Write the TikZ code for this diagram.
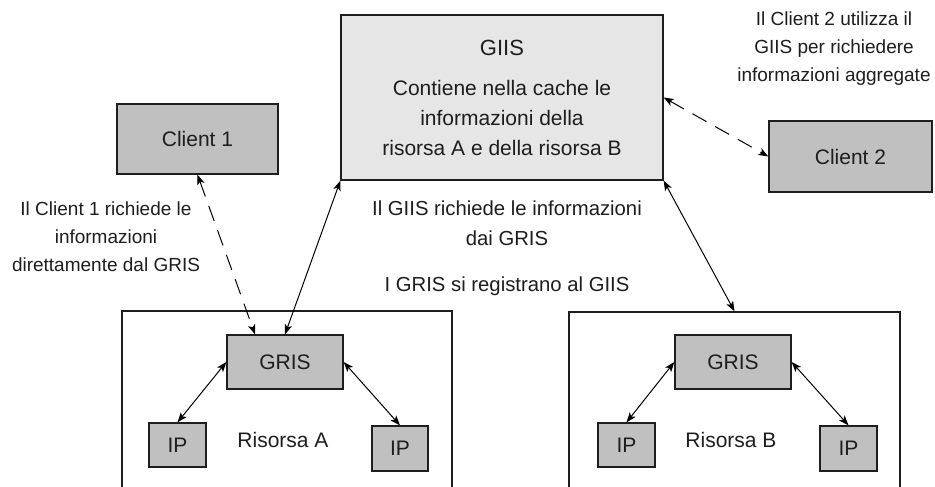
\documentclass[tikz,border=0pt]{standalone}
\usepackage{fontspec}
\setmainfont{Liberation Sans}
\usetikzlibrary{arrows.meta,calc}
\definecolor{boxgray}{HTML}{C0C0C0}
\definecolor{giisgray}{HTML}{E6E6E6}
\definecolor{edgecol}{HTML}{1E1E1E}
\begin{document}
\begin{tikzpicture}[x=1pt,y=-1pt,
  every node/.style={font=\fontsize{21}{30}\selectfont, text=edgecol},
  graybox/.style={draw=edgecol, line width=1.3pt, fill=boxgray, inner sep=0pt},
  giisbox/.style={draw=edgecol, line width=1.3pt, fill=giisgray, inner sep=0pt},
  resbox/.style={draw=edgecol, line width=1.3pt, fill=white, inner sep=0pt},
  lbl/.style={align=center, inner sep=0pt},
  sidelbl/.style={lbl, font=\fontsize{19}{28}\selectfont},
  midlbl/.style={lbl, font=\fontsize{20.3}{30}\selectfont},
  biarrow/.style={draw=black, line width=1pt, {Stealth[length=10pt,width=7.5pt,inset=2.5pt]}-{Stealth[length=10pt,width=7.5pt,inset=2.5pt]}},
  dasharrow/.style={biarrow, dash pattern=on 16pt off 10pt}
]
\clip (0,0) rectangle (935,487);
\fill[white] (0,0) rectangle (935,487);

% resource boxes
\node[resbox, minimum width=330pt, minimum height=186pt] (resA) at (287,404) {};
\node[resbox, minimum width=331pt, minimum height=185pt] (resB) at (734.5,404.5) {};

% GIIS
\node[giisbox, minimum width=322pt, minimum height=165pt] (giis) at (502,97.5) {};
\node[lbl, font=\fontsize{21}{30}\selectfont] (giistext) at (502,98) {{\fontsize{22}{30}\selectfont GIIS}\\[10pt]Contiene nella cache le\\informazioni della\\risorsa A e della risorsa B};

% clients
\node[graybox, minimum width=161pt, minimum height=70pt] (client1) at (197.5,139) {Client 1};
\node[graybox, minimum width=163pt, minimum height=71pt] (client2) at (850.5,156.5) {Client 2};

% GRIS and IP in resource A
\node[graybox, minimum width=116pt, minimum height=54pt] (grisA) at (285,362) {GRIS};
\node[graybox, minimum width=57pt, minimum height=44pt] (ipA1) at (177.5,445) {IP};
\node[graybox, minimum width=56pt, minimum height=45pt] (ipA2) at (400,448.5) {IP};
\node[lbl] (risA) at (283,440) {Risorsa A};

% GRIS and IP in resource B
\node[graybox, minimum width=116pt, minimum height=54pt] (grisB) at (733,362) {GRIS};
\node[graybox, minimum width=57pt, minimum height=44pt] (ipB1) at (626.5,445) {IP};
\node[graybox, minimum width=57pt, minimum height=45pt] (ipB2) at (848.5,448.5) {IP};
\node[lbl] (risB) at (731,440) {Risorsa B};

% labels
\node[sidelbl] (lblc1) at (106,237) {Il Client 1 richiede le\\informazioni\\direttamente dal GRIS};
\node[sidelbl] (lblc2) at (834,49) {Il Client 2 utilizza il\\GIIS per richiedere\\informazioni aggregate};
\node[midlbl] (lblmid) at (507,223) {Il GIIS richiede le informazioni\\dai GRIS};
\node[midlbl] (lblreg) at (507,286) {I GRIS si registrano al GIIS};

% connectors
\draw[biarrow] (giis.south west) -- (grisA.north);
\draw[biarrow] (giis.south east) -- (resB.north);
\draw[biarrow] (grisA.west) -- (ipA1.north);
\draw[biarrow] (grisA.east) -- (ipA2.north);
\draw[biarrow] (grisB.west) -- (ipB1.north);
\draw[biarrow] (grisB.east) -- (ipB2.north);
\draw[dasharrow] (client1.south) -- ($(grisA.north)+(-30,0)$);
\draw[dasharrow] (giis.east) -- (client2.west);
\end{tikzpicture}
\end{document}
